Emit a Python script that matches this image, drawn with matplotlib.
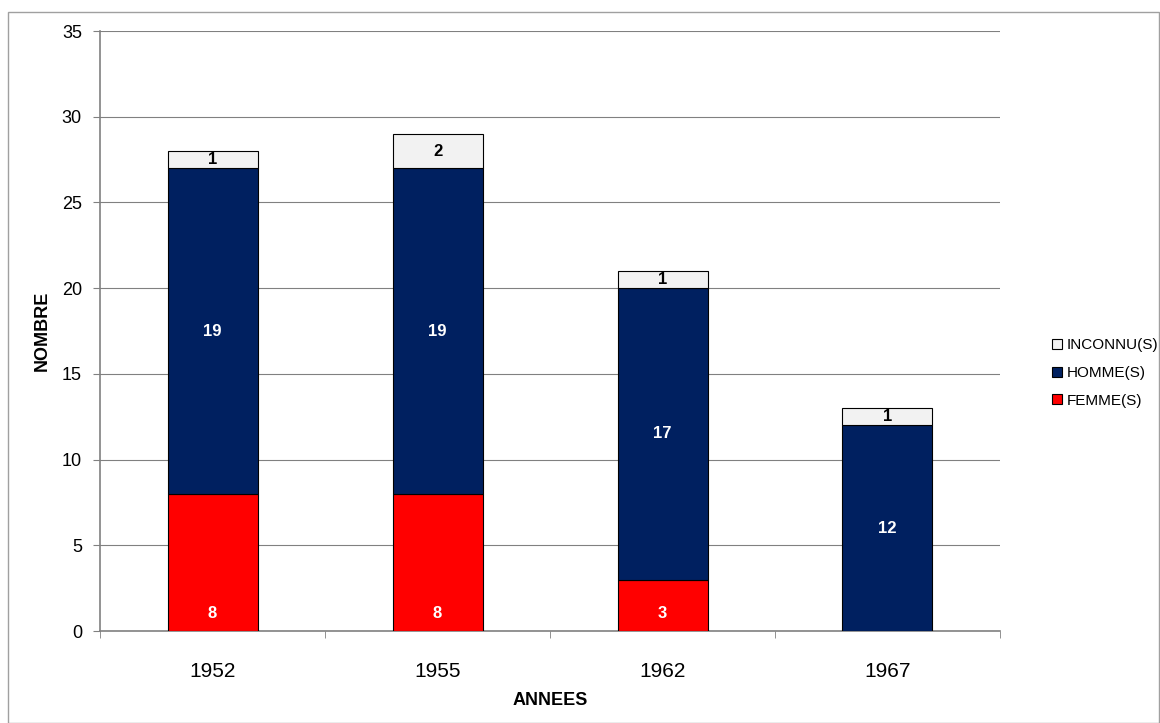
import numpy as np
import matplotlib.pyplot as plt
from matplotlib.patches import Rectangle

plt.rcParams['font.family'] = ['Liberation Sans', 'DejaVu Sans']

# data
annees = ["1952", "1955", "1962", "1967"]
femmes = [8, 8, 3, 0]
hommes = [19, 19, 17, 12]
inconnus = [1, 2, 1, 1]

col_f = "#FF0000"
col_h = "#002060"
col_i = "#F2F2F2"

fig = plt.figure(figsize=(11.6, 7.23), dpi=100)
ax = fig.add_axes([100/1160, 92/723, 900/1160, 600/723])

# outer frame
fig.patches.append(Rectangle((8/1160, 0), 1 - 9/1160, 1 - 12/723, transform=fig.transFigure,
                             fill=False, edgecolor="#A0A0A0", linewidth=1.0))

x = np.arange(len(annees))
w = 0.4
f = np.array(femmes)
h = np.array(hommes)
i_ = np.array(inconnus)

bf = ax.bar(x, f, w, color=col_f, edgecolor="black", linewidth=0.8, label="FEMME(S)", zorder=3)
bh = ax.bar(x, h, w, bottom=f, color=col_h, edgecolor="black", linewidth=0.8, label="HOMME(S)", zorder=3)
bi = ax.bar(x, i_, w, bottom=f + h, color=col_i, edgecolor="black", linewidth=0.8, label="INCONNU(S)", zorder=3)

# value labels
for k in range(len(annees)):
    if f[k] > 0:
        ax.text(x[k], 1.0, str(f[k]), ha="center", va="center", color="white",
                fontsize=12, fontweight="bold", zorder=4)
    ax.text(x[k], f[k] + h[k] / 2, str(h[k]), ha="center", va="center", color="white",
            fontsize=12, fontweight="bold", zorder=4)
    ax.text(x[k], f[k] + h[k] + i_[k] / 2, str(i_[k]), ha="center", va="center", color="black",
            fontsize=12, fontweight="bold", zorder=4)

ax.set_xlim(-0.5, len(annees) - 0.5)
ax.set_ylim(0, 35)
ax.set_yticks(range(0, 36, 5))
ax.set_xticks(x)
ax.set_xticklabels(annees, fontsize=15)
ax.set_xticks(np.arange(-0.5, len(annees)), minor=True)
ax.tick_params(axis="x", which="major", length=0, pad=22)
ax.tick_params(axis="x", which="minor", length=5, color="#808080")
ax.tick_params(axis="y", labelsize=13, length=5, color="#808080", pad=8)

ax.grid(axis="y", color="#808080", linewidth=0.8, zorder=0)
ax.set_axisbelow(True)
for s in ["top", "right"]:
    ax.spines[s].set_visible(False)
for s in ["left", "bottom"]:
    ax.spines[s].set_color("#808080")
    ax.spines[s].set_linewidth(1.2)

ax.set_xlabel("ANNEES", fontsize=13, fontweight="bold", labelpad=8)
ax.set_ylabel("NOMBRE", fontsize=13, fontweight="bold", labelpad=8)

handles = [bi, bh, bf]
leg = fig.legend(handles, [hh.get_label() for hh in handles], loc="center left",
                 bbox_to_anchor=(1052/1160, 1 - 373/723), frameon=False, fontsize=11,
                 borderpad=0, borderaxespad=0,
                 handlelength=0.65, handleheight=0.65, handletextpad=0.3, labelspacing=0.9)

fig.savefig("out.png", dpi=100)
